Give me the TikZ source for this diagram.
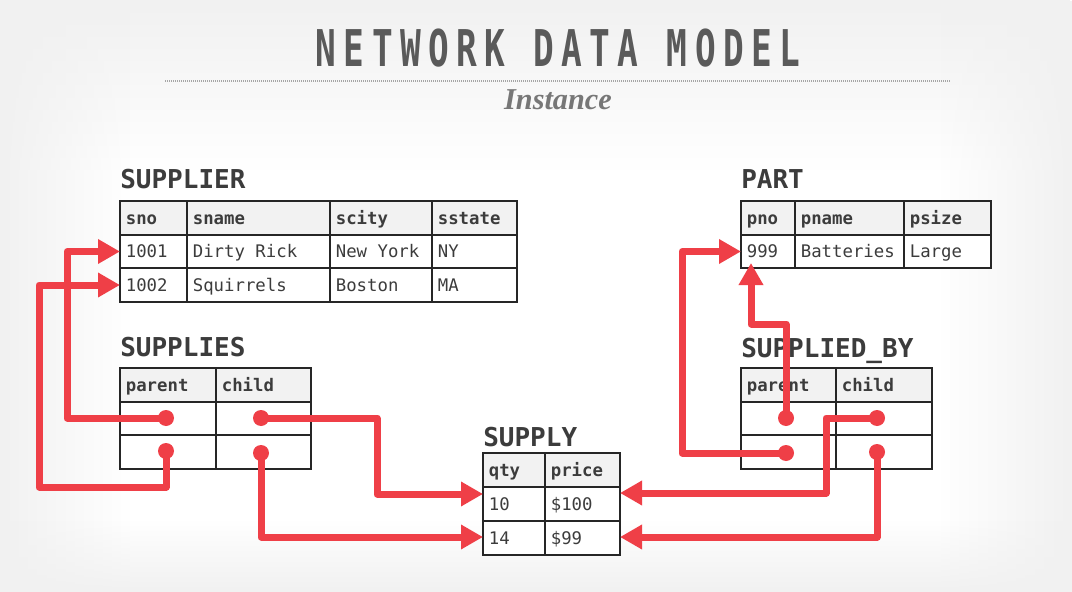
\documentclass[tikz,border=0pt]{standalone}
\usepackage{fontspec}
\usepackage{graphicx}
\usetikzlibrary{arrows.meta,fadings}

\newfontfamily\monofont{DejaVu Sans Mono}
\newfontfamily\titlefont[LetterSpace=21.5]{DejaVu Sans Mono}
\newfontfamily\serifit{Liberation Serif}

\definecolor{bggray}{HTML}{F1F1F1}
\definecolor{hdrgray}{HTML}{F2F2F2}
\definecolor{inkgray}{HTML}{3C3C3C}
\definecolor{headgray}{HTML}{5A5A5A}
\definecolor{subgray}{HTML}{777777}
\definecolor{linkred}{HTML}{EF3F47}

\tikzset{
  cellbox/.style={draw=black!85, line width=1.4pt, inner sep=0pt, outer sep=0pt},
  hdr/.style={fill=hdrgray},
  hdr text/.style={font=\monofont\bfseries\fontsize{13}{15}\selectfont},
  dat/.style={fill=white},
  dat text/.style={font=\monofont\fontsize{13}{15}\selectfont},
  celltext/.style={anchor=west, inner xsep=4.2pt, inner ysep=0pt, text=inkgray,
    text height=10.5pt, text depth=1.5pt},
  tabtitle/.style={anchor=base west, inner sep=0pt, text=inkgray,
    font=\monofont\bfseries\fontsize{19.5}{22}\selectfont},
  link/.style={draw=linkred, line width=5.25pt, line join=round,
    -{Triangle[length=16.5pt,width=17.5pt]}},
  dot/.style={fill=linkred},
}

% one table row: style, table name, row index, top y, bottom y, cells x1/x2/text
\newcommand\trow[6]{%
  \foreach \xa/\xb/\txt [count=\c] in {#6} {
    \pgfmathsetmacro\cw{(\xb-\xa)*0.75}
    \pgfmathsetmacro\ch{(#5-#4)*0.75}
    \node[cellbox,#1,minimum width=\cw pt,minimum height=\ch pt,anchor=north west]
      (#2-#3-\c) at (\xa,#4) {};
    \node[celltext,#1 text] at (#2-#3-\c.west) {\txt};
  }%
}

\begin{document}
\begin{tikzpicture}[x=0.75pt,y=-0.75pt]
\useasboundingbox (0,0) rectangle (1072,592);

% page background, greyed softly towards the edges
\fill[white] (0,0) rectangle (1072,592);
\fill[bggray, path fading=south] (0,0) rectangle (1072,170);
\fill[bggray, path fading=east] (0,0) rectangle (130,592);
\fill[bggray, path fading=west] (940,0) rectangle (1072,592);
\fill[bggray, path fading=north] (0,520) rectangle (1072,592);

% heading
\node[anchor=base, inner sep=0pt, text=headgray] (title) at (558,67)
  {\scalebox{0.68}[1]{\titlefont\bfseries\fontsize{38}{40}\selectfont NETWORK DATA MODEL}};
\draw[gray!70, line width=1.2pt, dash pattern=on 0.75pt off 0.75pt] (165,81) -- (950,81);
\node[anchor=base, inner sep=0pt, text=subgray] (subtitle) at (558,109)
  {\serifit\bfseries\itshape\fontsize{22.7}{26}\selectfont Instance};

% SUPPLIER
\node[tabtitle] (supplier-title) at (120,189) {SUPPLIER};
\trow{hdr}{supplier}{0}{201}{235}{120/187/sno, 187/330/sname, 330/432/scity, 432/517/sstate}
\trow{dat}{supplier}{1}{235}{268}{120/187/1001, 187/330/Dirty Rick, 330/432/New York, 432/517/NY}
\trow{dat}{supplier}{2}{268}{302}{120/187/1002, 187/330/Squirrels, 330/432/Boston, 432/517/MA}

% PART
\node[tabtitle] (part-title) at (741,189) {PART};
\trow{hdr}{part}{0}{201}{235}{741/795/pno, 795/904/pname, 904/991/psize}
\trow{dat}{part}{1}{235}{268}{741/795/999, 795/904/Batteries, 904/991/Large}

% SUPPLIES
\node[tabtitle] (supplies-title) at (120,356) {SUPPLIES};
\trow{hdr}{supplies}{0}{368}{402}{120/216/parent, 216/311/child}
\trow{dat}{supplies}{1}{402}{435}{120/216/{}, 216/311/{}}
\trow{dat}{supplies}{2}{435}{469}{120/216/{}, 216/311/{}}

% SUPPLIED_BY
\node[tabtitle] (suppliedby-title) at (741,357) {SUPPLIED\_BY};
\trow{hdr}{suppliedby}{0}{368}{402}{741/836/parent, 836/932/child}
\trow{dat}{suppliedby}{1}{402}{435}{741/836/{}, 836/932/{}}
\trow{dat}{suppliedby}{2}{435}{469}{741/836/{}, 836/932/{}}

% SUPPLY
\node[tabtitle] (supply-title) at (483,446) {SUPPLY};
\trow{hdr}{supply}{0}{453}{487}{483/545/qty, 545/620/price}
\trow{dat}{supply}{1}{487}{521}{483/545/10, 545/620/\$100}
\trow{dat}{supply}{2}{521}{555}{483/545/14, 545/620/\$99}

% pointer ends inside the set tables
\coordinate (sp-p1) at (166,418);
\coordinate (sp-p2) at (166,451);
\coordinate (sp-c1) at (261,418);
\coordinate (sp-c2) at (261,453);
\coordinate (sb-p1) at (786,418);
\coordinate (sb-p2) at (786,453);
\coordinate (sb-c1) at (877,418);
\coordinate (sb-c2) at (877,452);

% bends and targets
\coordinate (k1) at (67,251.5);
\coordinate (k2a) at (166,487);
\coordinate (k2b) at (39,285);
\coordinate (k3) at (377,494);
\coordinate (q1l) at (483,494);
\coordinate (q2l) at (483,537);
\coordinate (q1r) at (620,493);
\coordinate (q2r) at (620,537);
\coordinate (k5a) at (786,324);
\coordinate (k5b) at (751,324);
\coordinate (p999b) at (751,263);
\coordinate (k6) at (682,251.5);
\coordinate (k7) at (826,493);

\draw[link] (sp-p1) -| (k1) -- (supplier-1-1.west);
\draw[link] (sp-p2) -- (k2a) -| (k2b) -- (supplier-2-1.west);
\draw[link] (sp-c1) -| (k3) -- (q1l);
\draw[link] (sp-c2) |- (q2l);
\draw[link] (sb-p1) -- (k5a) -- (k5b) -- (p999b);
\draw[link] (sb-p2) -| (k6) -- (part-1-1.west);
\draw[link] (sb-c1) -| (k7) -- (q1r);
\draw[link] (sb-c2) |- (q2r);

\foreach \d in {sp-p1,sp-p2,sp-c1,sp-c2,sb-p1,sb-p2,sb-c1,sb-c2}
  \fill[dot] (\d) circle[radius=6pt];
\end{tikzpicture}
\end{document}
